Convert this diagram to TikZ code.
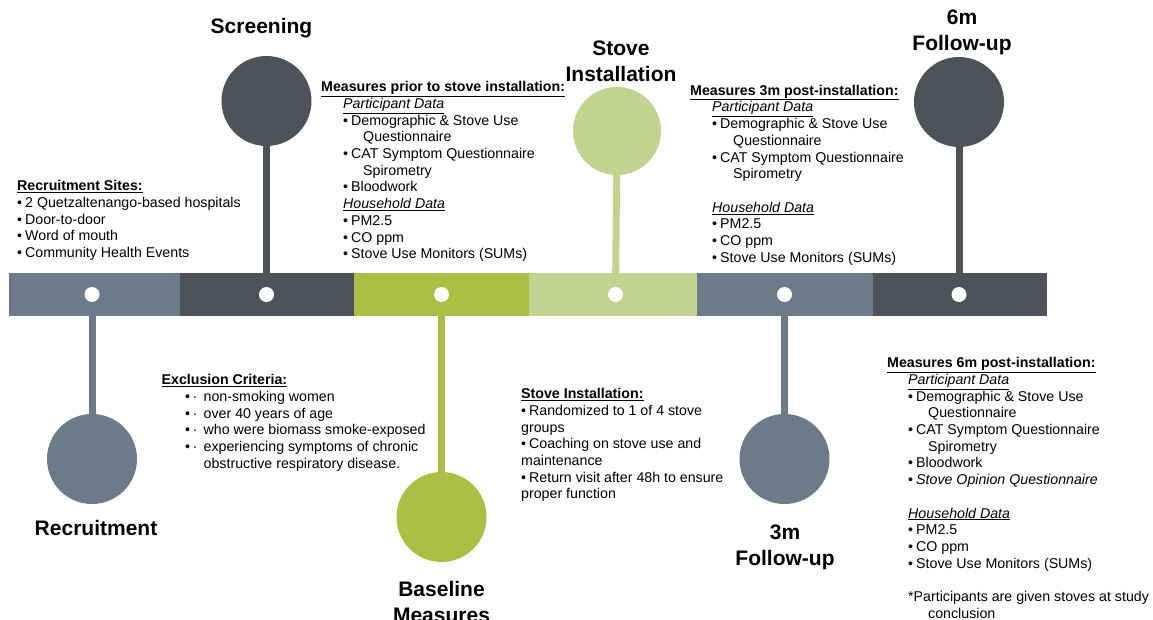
\documentclass[tikz,border=0pt]{standalone}
\usepackage{fontspec}
\setmainfont{Liberation Sans}
\usetikzlibrary{backgrounds}
\definecolor{slate}{HTML}{6C7A89}
\definecolor{darkg}{HTML}{4E535A}
\definecolor{greenA}{HTML}{A9BF45}
\definecolor{greenB}{HTML}{C3D28F}
\newcommand{\mybul}{\makebox[8pt][l]{•}}
\newcommand{\myxbul}{\makebox[18.5pt][l]{•\,·}}
\begin{document}
\begin{tikzpicture}[x=1pt,y=-1pt,
  seg/.style={rectangle,inner sep=0,minimum height=43.5pt},
  dot/.style={circle,fill=white,inner sep=0,minimum size=15pt},
  bigc/.style={circle,inner sep=0,minimum size=90pt},
  stem/.style={line width=7pt},
  title/.style={font=\fontsize{21}{26}\selectfont\bfseries,align=center,inner sep=0},
  blk/.style={anchor=north west,inner sep=0,align=left,font=\fontsize{14.2}{16.7}\selectfont}]
\clip (0,0) rectangle (1153,620);
% bar segments
\node[seg,fill=slate,minimum width=171pt] (s1) at (94.5,294.25) {};
\node[seg,fill=darkg,minimum width=174pt] (s2) at (267,294.25) {};
\node[seg,fill=greenA,minimum width=175pt] (s3) at (441.5,294.25) {};
\node[seg,fill=greenB,minimum width=168pt] (s4) at (613,294.25) {};
\node[seg,fill=slate,minimum width=176pt] (s5) at (785,294.25) {};
\node[seg,fill=darkg,minimum width=174pt] (s6) at (960,294.25) {};
% dots
\node[dot] (d1) at (92,294.5) {};
\node[dot] (d2) at (266.5,294.5) {};
\node[dot] (d3) at (441.5,294.5) {};
\node[dot] (d4) at (615.5,294.5) {};
\node[dot] (d5) at (784.5,294.5) {};
\node[dot] (d6) at (959,294.5) {};
% circles
\node[bigc,fill=slate] (c1) at (92,459) {};
\node[bigc,fill=darkg] (c2) at (266.5,101) {};
\node[bigc,fill=greenA] (c3) at (441.5,517) {};
\node[bigc,fill=greenB,minimum size=88pt] (c4) at (617,131) {};
\node[bigc,fill=slate] (c5) at (784.5,459) {};
\node[bigc,fill=darkg] (c6) at (959,102) {};
\begin{pgfonlayer}{background}
\draw[stem,slate] (c1.center) -- (d1.center);
\draw[stem,darkg] (c2.center) -- (d2.center);
\draw[stem,greenA] (c3.center) -- (d3.center);
\draw[stem,greenB] (c4.center) -- (d4.center);
\draw[stem,slate] (c5.center) -- (d5.center);
\draw[stem,darkg] (c6.center) -- (d6.center);
\end{pgfonlayer}
% titles
\node[title] (tRec) at (96,528) {Recruitment};
\node[title] (tScr) at (261.5,28) {Screening};
\node[title] (tBas) at (441.5,601.5) {Baseline\\Measures};
\node[title] (tSto) at (621,61) {Stove\\Installation};
\node[title] (t3m) at (785,547.5) {3m\\Follow-up};
\node[title] (t6m) at (962,32.5) {6m\\Follow-up};
% text blocks
\node[blk] (b1) at (17,180.3) {\textbf{\underline{Recruitment Sites:}}\\
\mybul 2 Quetzaltenango-based hospitals\\
\mybul Door-to-door\\
\mybul Word of mouth\\
\mybul Community Health Events};
\node[blk] (b2) at (321,81.3) {\textbf{\underline{Measures prior to stove installation:}}\\
\hspace*{22pt}\textit{\underline{Participant Data}}\\
\hspace*{22pt}\mybul Demographic \& Stove Use\\
\hspace*{42pt}Questionnaire\\
\hspace*{22pt}\mybul CAT Symptom Questionnaire\\
\hspace*{42pt}Spirometry\\
\hspace*{22pt}\mybul Bloodwork\\
\hspace*{22pt}\textit{\underline{Household Data}}\\
\hspace*{22pt}\mybul PM2.5\\
\hspace*{22pt}\mybul CO ppm\\
\hspace*{22pt}\mybul Stove Use Monitors (SUMs)};
\node[blk] (b3) at (690,84.8) {\textbf{\underline{Measures 3m post-installation:}}\\
\hspace*{22pt}\textit{\underline{Participant Data}}\\
\hspace*{22pt}\mybul Demographic \& Stove Use\\
\hspace*{43pt}Questionnaire\\
\hspace*{22pt}\mybul CAT Symptom Questionnaire\\
\hspace*{43pt}Spirometry\\[16.7pt]
\hspace*{22pt}\textit{\underline{Household Data}}\\
\hspace*{22pt}\mybul PM2.5\\
\hspace*{22pt}\mybul CO ppm\\
\hspace*{22pt}\mybul Stove Use Monitors (SUMs)};
\node[blk] (b4) at (161.5,374.3) {\textbf{\underline{Exclusion Criteria:}}\\
\hspace*{23.5pt}\myxbul non-smoking women\\
\hspace*{23.5pt}\myxbul over 40 years of age\\
\hspace*{23.5pt}\myxbul who were biomass smoke-exposed\\
\hspace*{23.5pt}\myxbul experiencing symptoms of chronic\\
\hspace*{42pt}obstructive respiratory disease.};
\node[blk] (b5) at (521,388.3) {\textbf{\underline{Stove Installation:}}\\
\mybul Randomized to 1 of 4 stove\\
groups\\
\mybul Coaching on stove use and\\
maintenance\\
\mybul Return visit after 48h to ensure\\
proper function};
\node[blk] (b6) at (887,357.3) {\textbf{\underline{Measures 6m post-installation:}}\\
\hspace*{21pt}\textit{\underline{Participant Data}}\\
\hspace*{21pt}\mybul Demographic \& Stove Use\\
\hspace*{41pt}Questionnaire\\
\hspace*{21pt}\mybul CAT Symptom Questionnaire\\
\hspace*{41pt}Spirometry\\
\hspace*{21pt}\mybul Bloodwork\\
\hspace*{21pt}\mybul\textit{Stove Opinion Questionnaire}\\[16.7pt]
\hspace*{21pt}\textit{\underline{Household Data}}\\
\hspace*{21pt}\mybul PM2.5\\
\hspace*{21pt}\mybul CO ppm\\
\hspace*{21pt}\mybul Stove Use Monitors (SUMs)\\[16.7pt]
\hspace*{21pt}*Participants are given stoves at study\\
\hspace*{41pt}conclusion};
\end{tikzpicture}
\end{document}
